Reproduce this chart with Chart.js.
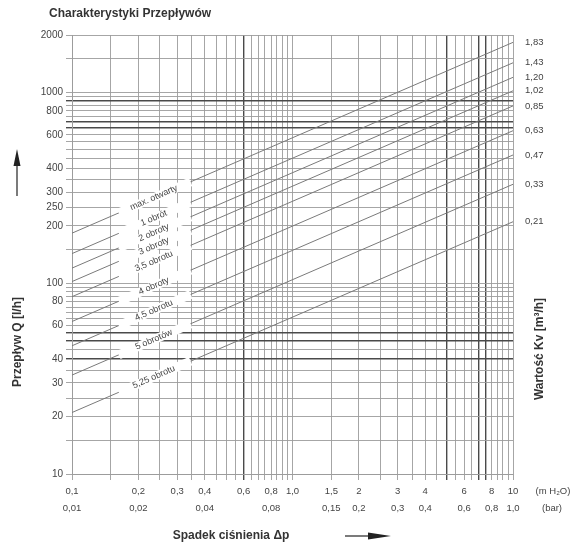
<!DOCTYPE html>
<html lang="pl">
<head>
<meta charset="UTF-8">
<title>Charakterystyki Przepływów</title>
<script src="https://cdn.jsdelivr.net/npm/chart.js"></script>
<style>
  html, body { margin: 0; padding: 0; background: #fff; }
  #wrap { width: 574px; height: 547px; }
</style>
</head>
<body>
<div id="wrap"><canvas id="flowChart" width="574" height="547"></canvas></div>
<script>
// valve settings (turns) and their Kv values
const turns = ['max. otwarty', '1 obrót', '2 obroty', '3 obroty', '3,5 obrotu',
               '4 obroty', '4,5 obrotu', '5 obrotów', '5,25 obrotu'];
const kvLabels = ['1,83', '1,43', '1,20', '1,02', '0,85', '0,63', '0,47', '0,33', '0,21'];
// flow Q [l/h] read at both ends of each line
const dpEnds = [0.1, 10];                                     // m H2O
const flowAtStart = [183, 143, 120, 102, 85, 63, 47, 33, 21]; // at 0,1 m H2O
const flowAtEnd = [1830, 1430, 1200, 1020, 850, 630, 470, 330, 210]; // at 10 m H2O

// tick labels
const dpTicks = [0.1, 0.2, 0.3, 0.4, 0.6, 0.8, 1, 1.5, 2, 3, 4, 6, 8, 10];
const dpLabels = ['0,1', '0,2', '0,3', '0,4', '0,6', '0,8', '1,0', '1,5', '2', '3', '4', '6', '8', '10'];
const barLabels = ['0,01', '0,02', '', '0,04', '', '0,08', '', '0,15', '0,2', '0,3', '0,4', '0,6', '0,8', '1,0'];
const qTicks = [10, 20, 30, 40, 60, 80, 100, 200, 250, 300, 400, 600, 800, 1000, 2000];

// grid lines
const xGrid = [];
for (let i = 2; i <= 20; i++) xGrid.push(Math.round(i * 5) / 100);   // 0,1 .. 1,0
for (let i = 3; i <= 20; i++) xGrid.push(i / 2);                     // 1,5 .. 10
const yGrid = [];
for (let v = 10; v <= 100; v += 5) yGrid.push(v);
for (let v = 150; v <= 1000; v += 50) yGrid.push(v);
yGrid.push(1500, 2000);
const xDark = [0.6, 5, 7, 7.5];
const yDark = [40, 50, 55, 650, 700, 900];

const FONT = "'Liberation Sans', Arial, sans-serif";
const near = (a, b) => Math.abs(a - b) < 1e-6 * Math.max(1, b);

const decor = {
  id: 'decor',
  afterDatasetsDraw(chart) {
    const ctx = chart.ctx;
    const xs = chart.scales.x;
    ctx.save();
    chart.data.datasets.forEach((ds, i) => {
      const pts = chart.getDatasetMeta(i).data;
      const p0 = pts[0], p1 = pts[1];
      const at = v => {
        const px = xs.getPixelForValue(v);
        const t = (px - p0.x) / (p1.x - p0.x);
        return { x: px, y: p0.y + t * (p1.y - p0.y) };
      };
      const ang = Math.atan2(p1.y - p0.y, p1.x - p0.x);
      const a = at(0.163), b = at(0.345);
      ctx.strokeStyle = '#fff';
      ctx.lineWidth = 9;
      ctx.beginPath();
      ctx.moveTo(a.x, a.y);
      ctx.lineTo(b.x, b.y);
      ctx.stroke();
      const c = at(0.235);
      ctx.save();
      ctx.translate(c.x, c.y);
      ctx.rotate(ang);
      ctx.fillStyle = '#444';
      ctx.font = '9px ' + FONT;
      ctx.textAlign = 'center';
      ctx.textBaseline = 'middle';
      ctx.fillText(ds.label, 0, 0);
      ctx.restore();
    });
    ctx.restore();
  },
  afterDraw(chart) {
    const ctx = chart.ctx;
    ctx.save();
    ctx.fillStyle = '#333';
    ctx.strokeStyle = '#333';
    ctx.textBaseline = 'middle';

    ctx.font = 'bold 12px ' + FONT;
    ctx.textAlign = 'left';
    ctx.fillText('Charakterystyki Przepływów', 49, 14);

    ctx.textAlign = 'center';
    ctx.fillText('Spadek ciśnienia Δp', 231, 536);

    ctx.save();
    ctx.translate(18, 342);
    ctx.rotate(-Math.PI / 2);
    ctx.fillText('Przepływ Q [l/h]', 0, 0);
    ctx.restore();

    ctx.save();
    ctx.translate(540, 349);
    ctx.rotate(-Math.PI / 2);
    ctx.fillText('Wartość Kv [m³/h]', 0, 0);
    ctx.restore();

    ctx.font = '9.5px ' + FONT;
    ctx.fillStyle = '#444';
    ctx.fillText('(m H₂O)', 553, 491);
    ctx.fillText('(bar)', 552, 508);

    // arrows
    ctx.fillStyle = '#222';
    ctx.strokeStyle = '#222';
    ctx.lineWidth = 1.2;
    ctx.beginPath();
    ctx.moveTo(17, 196); ctx.lineTo(17, 162);
    ctx.stroke();
    ctx.beginPath();
    ctx.moveTo(17, 149); ctx.lineTo(20.5, 166); ctx.lineTo(13.5, 166); ctx.closePath();
    ctx.fill();
    ctx.beginPath();
    ctx.moveTo(345, 536); ctx.lineTo(372, 536);
    ctx.stroke();
    ctx.beginPath();
    ctx.moveTo(391, 536); ctx.lineTo(368, 532.5); ctx.lineTo(368, 539.5); ctx.closePath();
    ctx.fill();
    ctx.restore();
  }
};

const datasets = turns.map((t, i) => ({
  label: t,
  data: [{ x: dpEnds[0], y: flowAtStart[i] }, { x: dpEnds[1], y: flowAtEnd[i] }],
  borderColor: '#7a7a7a',
  borderWidth: 1,
  pointRadius: 0,
  fill: false
}));

const gridColor = dark => ctx => (ctx.tick && dark.some(d => near(ctx.tick.value, d))) ? '#4a4a4a' : '#9c9c9c';
const gridWidth = dark => ctx => (ctx.tick && dark.some(d => near(ctx.tick.value, d))) ? 1.4 : 0.9;

new Chart(document.getElementById('flowChart').getContext('2d'), {
  type: 'line',
  data: { datasets },
  options: {
    responsive: false,
    animation: false,
    layout: { padding: { top: 35, left: 0, right: 0, bottom: 0 } },
    plugins: { legend: { display: false }, tooltip: { enabled: false }, title: { display: false } },
    scales: {
      x: {
        type: 'logarithmic',
        min: 0.1, max: 10,
        afterBuildTicks: s => { s.ticks = xGrid.map(v => ({ value: v })); },
        afterFit: s => { s.height = 73; },
        grid: { color: gridColor(xDark), lineWidth: gridWidth(xDark), tickLength: 6 },
        border: { color: '#9c9c9c', width: 1 },
        ticks: {
          autoSkip: false, maxRotation: 0, minRotation: 0, padding: 2.5,
          color: '#444',
          font: { family: FONT, size: 9.5, lineHeight: 1.8 },
          callback: v => {
            const k = dpTicks.findIndex(t => near(v, t));
            return k < 0 ? '' : [dpLabels[k], barLabels[k]];
          }
        }
      },
      y: {
        type: 'logarithmic',
        position: 'left',
        min: 10, max: 2000,
        afterBuildTicks: s => { s.ticks = yGrid.map(v => ({ value: v })); },
        afterFit: s => { s.width = 72; },
        grid: { color: gridColor(yDark), lineWidth: gridWidth(yDark), tickLength: 6 },
        border: { color: '#9c9c9c', width: 1 },
        ticks: {
          autoSkip: false, padding: 3, color: '#444',
          font: { family: FONT, size: 10 },
          callback: v => qTicks.some(t => near(v, t)) ? String(v) : ''
        }
      },
      kv: {
        type: 'logarithmic',
        position: 'right',
        min: 10, max: 2000,
        afterBuildTicks: s => { s.ticks = flowAtEnd.map(v => ({ value: v })); },
        afterFit: s => { s.width = 61; },
        grid: { display: false, drawTicks: false },
        border: { display: false },
        ticks: {
          autoSkip: false, padding: 12, color: '#444',
          font: { family: FONT, size: 9.5 },
          callback: (v, i) => kvLabels[i]
        }
      }
    }
  },
  plugins: [decor]
});
</script>
</body>
</html>
